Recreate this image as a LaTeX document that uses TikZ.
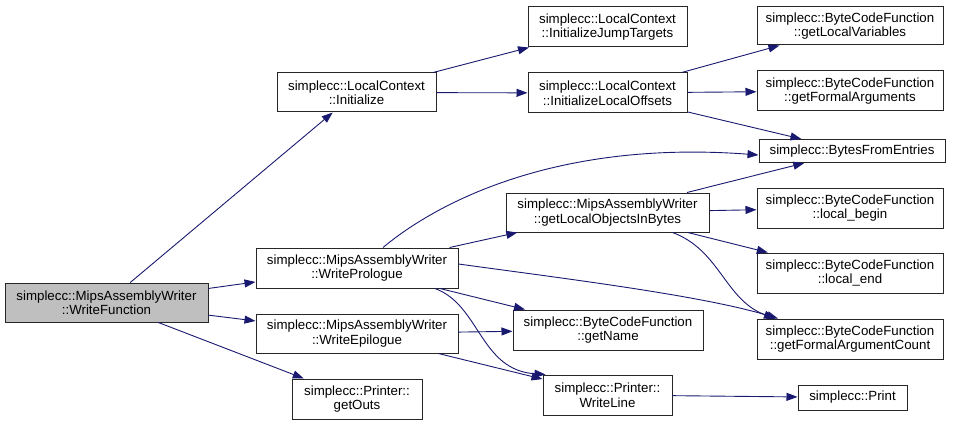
\documentclass[tikz,border=0pt]{standalone}
\usepackage{fontspec}
\setmainfont{Liberation Sans}
\usetikzlibrary{arrows.meta}
\definecolor{edgeblue}{HTML}{191970}
\definecolor{hilite}{HTML}{BFBFBF}
\begin{document}
\begin{tikzpicture}[x=1pt,y=-1pt,
  fn/.style={draw=black!85,line width=1pt,fill=white,inner sep=0pt,align=center,
    font=\fontsize{13.3}{14.5}\selectfont},
  call/.style={draw=edgeblue,line width=0.9pt,-{Triangle[length=11pt,width=8pt]}}]
\useasboundingbox (0,0) rectangle (953,425);
% nodes
\node[fn,fill=hilite,minimum width=203,minimum height=39] (wf) at (106.5,302.5) {simplecc::MipsAssemblyWriter\\::WriteFunction};
\node[fn,minimum width=159,minimum height=39] (init) at (356.5,92.5) {simplecc::LocalContext\\::Initialize};
\node[fn,minimum width=159,minimum height=40] (ijt) at (607.5,27) {simplecc::LocalContext\\::InitializeJumpTargets};
\node[fn,minimum width=159,minimum height=40] (ilo) at (607.5,93) {simplecc::LocalContext\\::InitializeLocalOffsets};
\node[fn,minimum width=186,minimum height=38] (glv) at (850,26) {simplecc::ByteCodeFunction\\::getLocalVariables};
\node[fn,minimum width=186,minimum height=40] (gfa) at (850,91) {simplecc::ByteCodeFunction\\::getFormalArguments};
\node[fn,minimum width=186,minimum height=23] (bfe) at (852,151) {simplecc::BytesFromEntries};
\node[fn,minimum width=202,minimum height=40] (wp) at (357,268) {simplecc::MipsAssemblyWriter\\::WritePrologue};
\node[fn,minimum width=202,minimum height=39] (we) at (357,333.5) {simplecc::MipsAssemblyWriter\\::WriteEpilogue};
\node[fn,minimum width=130,minimum height=40] (go) at (357,399) {simplecc::Printer::\\getOuts};
\node[fn,minimum width=203,minimum height=39] (glo) at (607.5,212.5) {simplecc::MipsAssemblyWriter\\::getLocalObjectsInBytes};
\node[fn,minimum width=190,minimum height=40] (gn) at (608,330) {simplecc::ByteCodeFunction\\::getName};
\node[fn,minimum width=129,minimum height=40] (wl) at (607.5,395) {simplecc::Printer::\\WriteLine};
\node[fn,minimum width=186,minimum height=40] (lb) at (850,208) {simplecc::ByteCodeFunction\\::local\_begin};
\node[fn,minimum width=186,minimum height=40] (le) at (850,273) {simplecc::ByteCodeFunction\\::local\_end};
\node[fn,minimum width=186,minimum height=40] (gfac) at (850,339) {simplecc::ByteCodeFunction\\::getFormalArgumentCount};
\node[fn,minimum width=109,minimum height=25] (pr) at (852.5,397.5) {simplecc::Print};
% edges
\draw[call] (wf) -- (init);
\draw[call] (wf) -- (wp);
\draw[call] (wf) -- (we);
\draw[call] (wf) -- (go);
\draw[call] (init) -- (ijt);
\draw[call] (init) -- (ilo);
\draw[call] (ilo) -- (glv);
\draw[call] (ilo) -- (gfa);
\draw[call] (ilo) -- (bfe);
\draw[call] ([xshift=26]wp.north) .. controls (440,200) and (560,140) .. ([yshift=-4]bfe.west);
\draw[call] (wp) -- (glo);
\draw[call] ([yshift=4]wp.east) .. controls (560,278) and (700,295) .. ([xshift=-72]gfac.north);
\draw[call] (wp) -- (gn);
\draw[call] ([xshift=78]wp.south) .. controls (480,305) and (480,370) .. ([xshift=-62]wl.north);
\draw[call] (we) -- (gn);
\draw[call] (we) -- (wl);
\draw[call] (glo) -- (bfe);
\draw[call] (glo) -- (lb);
\draw[call] (glo) -- (le);
\draw[call] ([xshift=65]glo.south) .. controls (720,250) and (725,300) .. ([xshift=-75]gfac.north);
\draw[call] (wl) -- (pr);
\end{tikzpicture}
\end{document}
